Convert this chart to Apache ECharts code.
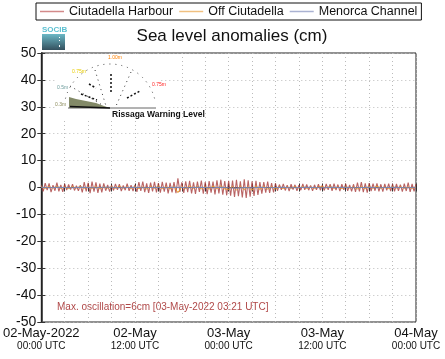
<!DOCTYPE html>
<html><head><meta charset="utf-8">
<script src="https://cdn.jsdelivr.net/npm/echarts@6/dist/echarts.min.js"></script>
<style>html,body{margin:0;padding:0;background:#fff}#c{width:445px;height:359px}</style>
</head><body><div id="c"></div>
<script>
// time axis: hours since 02-May-2022 00:00 UTC
const xTopLabels = ['02-May-2022','02-May','03-May','03-May','04-May'];
const xBottomLabels = ['00:00 UTC','12:00 UTC','00:00 UTC','12:00 UTC','00:00 UTC'];
const seriesNames = ['Ciutadella Harbour','Off Ciutadella','Menorca Channel'];
// Ciutadella Harbour, every 15 min (cm)
const harbourStepH = 0.25;
const harbour = [
 0.8,-1.4,1.6,-1.0,1.5,-1.7,0.9,-1.2,1.8,-1.4,1.0,-1.6,1.3,
 -1.0,1.1,-0.8,1.2,-1.1,0.7,-1.2,0.9,
 -1.8,2.0,-1.4,1.7,-2.1,2.2,-1.5,1.9,-2.0,1.4,-1.8,1.5,
 -1.2,1.0,-1.5,0.9,-1.1,1.3,-0.9,1.2,-1.3,0.8,-1.0,1.4,-1.2,0.9,-1.3,1.0,
 -1.6,2.0,-1.3,2.2,-1.7,1.5,-2.0,1.8,-1.4,2.1,-1.8,1.6,
 -1.9,2.1,-1.5,1.8,-2.2,1.7,-1.8,2.0,-2.1,3.4,-1.6,1.9,
 -2.0,2.3,-1.7,2.5,-2.2,1.9,-2.4,2.2,-1.6,2.6,-2.3,2.0,-2.5,2.4,-1.9,2.2,
 -2.6,2.7,-2.2,2.9,-2.7,2.4,-2.9,2.5,
 -3.0,2.6,-3.5,2.9,-3.2,2.3,-3.7,3.0,-3.9,2.7,-3.4,2.3,-3.1,2.5,-2.8,2.0,
 -2.3,2.0,-1.9,2.2,-2.0,1.6,-1.8,1.5,
 -1.2,1.1,-0.9,1.3,-1.1,0.9,-1.3,1.2,-0.8,1.0,-1.2,0.9,-1.0,1.3,-0.9,1.1,-1.0,0.8,-1.2,1.0,-0.9,1.2,-1.0,0.9,
 -1.1,1.3,-0.9,1.2,-1.2,1.4,-1.0,1.1,-1.3,1.2,-0.9,1.3,-1.2,1.0,-1.4,1.2,
 -1.6,1.8,-1.4,2.0,-1.7,1.5,-1.9,1.6,
 -1.3,1.4,-1.2,1.5,-1.4,1.2,-1.5,1.3,-1.1,1.4,-1.3,1.2,-1.4,1.3,-1.2,1.1,
 -1.5,1.4,-1.3,1.8,-1.6,1.3,-1.4,1.2
];
// Off Ciutadella, every 30 min (cm)
const offStepH = 0.5;
const offCiutadella = [
 0.2,-0.3,0.3,-0.2,0.4,-0.3,0.2,-0.4,0.3,-0.2,0.4,-0.3,0.2,-0.3,0.3,-0.4,0.2,-0.2,0.3,-0.3,0.4,-0.2,0.2,-0.3,
 0.3,-0.4,0.2,-0.5,0.4,-0.3,0.5,-0.4,0.3,-0.5,0.4,-1.9,0.3,-0.4,0.5,-0.3,0.4,-0.5,0.3,-0.6,0.5,-0.4,0.6,-0.5,
 -0.7,0.4,-0.9,0.5,-0.8,0.3,-1.0,0.6,-0.7,0.4,-0.6,0.3,-0.5,0.3,-0.4,0.2,-0.3,0.3,-0.2,0.3,-0.3,0.2,-0.3,0.2,
 0.3,-0.2,0.4,-0.3,0.2,-0.4,0.3,-0.2,0.2,-0.5,0.3,-0.4,0.4,-0.3,0.5,-0.3,0.2,-0.4,0.3,-0.2,0.3,-0.3,0.2,-0.3,0.2
];
// Menorca Channel, hourly (cm)
const menorcaStepH = 1;
const menorca = [
 0.1,-0.1,0.1,0.0,-0.1,0.1,0.0,-0.1,0.1,0.1,-0.1,0.0,0.1,-0.1,0.0,0.1,-0.1,0.1,0.0,-0.1,0.1,0.0,-0.1,0.1,
 -0.1,-0.2,0.0,-0.1,0.1,-0.1,0.0,0.1,-0.1,0.0,0.1,0.0,-0.1,0.1,0.0,0.1,-0.1,0.0,0.1,-0.1,0.0,0.1,0.0,-0.1,0.1
];
const maxOscText = 'Max. oscillation=6cm [03-May-2022 03:21 UTC]';

const toPairs = (arr, step) => arr.map((v, i) => [i * step, v]);
const F = 'Liberation Sans, Arial, sans-serif';
const chart = echarts.init(document.getElementById('c'), null, {renderer: 'canvas'});

const baseX = {
  type: 'value', min: 0, max: 48, interval: 3,
  axisLine: {show: true, lineStyle: {color: '#222', width: 1}},
  axisTick: {show: true, inside: true, length: 4, lineStyle: {color: '#333'}},
  splitLine: {show: false}
};
const baseY = {
  type: 'value', min: -50, max: 50, interval: 10,
  axisLine: {show: true, lineStyle: {color: '#222', width: 1}},
  axisTick: {show: true, inside: true, length: 4, lineStyle: {color: '#333'}},
  splitLine: {show: false}
};

chart.setOption({
  animation: false,
  backgroundColor: '#fff',
  textStyle: {fontFamily: F},
  title: {
    text: 'Sea level anomalies (cm)', left: 227, top: 23, textAlign: 'center',
    textStyle: {fontFamily: F, fontSize: 17, fontWeight: 'normal', color: '#111'}
  },
  legend: {
    left: 36, top: 3, padding: [2, 4, 2, 4], itemGap: 6,
    borderColor: '#111', borderWidth: 1,
    icon: 'rect', itemWidth: 24, itemHeight: 1.5,
    textStyle: {fontFamily: F, fontSize: 12.5, color: '#111'},
    data: [
      {name: seriesNames[0], itemStyle: {color: '#d38a8a'}},
      {name: seriesNames[1], itemStyle: {color: '#f0c080'}},
      {name: seriesNames[2], itemStyle: {color: '#aab2d2'}}
    ]
  },
  grid: {left: 39, right: 29, top: 53, bottom: 37, show: true, borderColor: '#222', borderWidth: 1},
  xAxis: [
    Object.assign({}, baseX, {
      position: 'bottom',
      splitLine: {show: true, lineStyle: {color: '#bbb', type: [1, 3], width: 1}},
      axisLabel: {
        show: true, margin: 5, showMinLabel: true, showMaxLabel: true,
        formatter: function (v) {
          if (v % 12 !== 0) return '';
          const k = v / 12;
          return '{a|' + xTopLabels[k] + '}\n{b|' + xBottomLabels[k] + '}';
        },
        rich: {
          a: {fontFamily: F, fontSize: 13, color: '#111', lineHeight: 13},
          b: {fontFamily: F, fontSize: 10, color: '#111', lineHeight: 12}
        }
      }
    }),
    Object.assign({}, baseX, {position: 'top', axisLabel: {show: false}})
  ],
  yAxis: [
    Object.assign({}, baseY, {
      position: 'left',
      axisLine: {show: true, lineStyle: {color: '#555', width: 2}},
      splitLine: {show: true, lineStyle: {color: '#bbb', type: [1, 3], width: 1}},
      axisLabel: {show: true, margin: 5, fontFamily: F, fontSize: 14, color: '#111'}
    }),
    Object.assign({}, baseY, {position: 'right', axisLabel: {show: false}})
  ],
  graphic: [
    // SOCIB logo
    {type: 'text', left: 42, top: 26, style: {text: 'SOCIB', fontFamily: F, fontSize: 8, fontWeight: 'bold', fill: '#5bbfd0'}},
    {type: 'rect', shape: {x: 42, y: 34, width: 23, height: 16},
     style: {fill: new echarts.graphic.LinearGradient(0, 0, 0, 1, [{offset: 0, color: '#6ab8c6'}, {offset: 1, color: '#34505e'}])}},
    {type: 'rect', shape: {x: 59, y: 37, width: 1, height: 1}, style: {fill: '#fff'}},
    {type: 'rect', shape: {x: 59, y: 40, width: 1, height: 1}, style: {fill: '#fff'}},
    {type: 'rect', shape: {x: 59, y: 45, width: 1, height: 2}, style: {fill: '#fff'}},
    // warning gauge image
    {type: 'rect', z: 10, shape: {x: 55, y: 55, width: 106, height: 66}, style: {fill: '#fff'}},
    {type: 'arc', z: 11, shape: {cx: 110, cy: 110, r: 46, startAngle: Math.PI + 0.25, endAngle: 2 * Math.PI - 0.25},
     style: {stroke: '#444', lineWidth: 1, lineDash: [1, 5], fill: null}},
    {type: 'polygon', z: 11, shape: {points: [[69, 97], [76, 99], [86, 101], [96, 103], [104, 106], [110, 108], [69, 108]]}, style: {fill: '#838a68'}},
    {type: 'line', z: 12, shape: {x1: 68, y1: 108, x2: 156, y2: 108}, style: {stroke: '#666', lineWidth: 1}},
    {type: 'line', z: 12, shape: {x1: 70, y1: 106.5, x2: 110, y2: 108}, style: {stroke: '#111', lineWidth: 1.5}},
    {type: 'line', z: 11, shape: {x1: 81, y1: 94, x2: 97, y2: 100}, style: {stroke: '#111', lineWidth: 1.5, lineDash: [2, 2]}},
    {type: 'line', z: 11, shape: {x1: 89, y1: 84, x2: 96, y2: 88}, style: {stroke: '#111', lineWidth: 1.5, lineDash: [2, 2]}},
    {type: 'line', z: 11, shape: {x1: 111, y1: 74, x2: 111, y2: 92}, style: {stroke: '#111', lineWidth: 1.5, lineDash: [2, 2]}},
    {type: 'line', z: 11, shape: {x1: 127, y1: 98, x2: 140, y2: 91}, style: {stroke: '#111', lineWidth: 1.5, lineDash: [2, 2]}},
    {type: 'line', z: 11, shape: {x1: 95, y1: 70, x2: 106, y2: 106}, style: {stroke: '#333', lineWidth: 1, lineDash: [1, 4]}},
    {type: 'line', z: 11, shape: {x1: 131, y1: 72, x2: 116, y2: 106}, style: {stroke: '#333', lineWidth: 1, lineDash: [1, 4]}},
    {type: 'line', z: 11, shape: {x1: 70, y1: 86, x2: 104, y2: 106}, style: {stroke: '#333', lineWidth: 1, lineDash: [1, 4]}},
    {type: 'text', z: 12, left: 108, top: 55, style: {text: '1.00m', fontFamily: F, fontSize: 5, fill: '#ff8000'}},
    {type: 'text', z: 12, left: 72, top: 69, style: {text: '0.75m', fontFamily: F, fontSize: 5, fill: '#e8cc00'}},
    {type: 'text', z: 12, left: 152, top: 82, style: {text: '0.75m', fontFamily: F, fontSize: 5, fill: '#ff2020'}},
    {type: 'text', z: 12, left: 57, top: 85, style: {text: '0.5m', fontFamily: F, fontSize: 5, fill: '#6a9a9a'}},
    {type: 'text', z: 12, left: 55, top: 102, style: {text: '0.3m', fontFamily: F, fontSize: 5, fill: '#8a8a5a'}},
    {type: 'text', z: 12, left: 112, top: 110, style: {text: 'Rissaga Warning Level', fontFamily: F, fontSize: 8.5, fontWeight: 'bold', fill: '#111', textAlign: 'center'}},
    // max oscillation note
    {type: 'text', left: 57, top: 302, style: {text: maxOscText, fontFamily: F, fontSize: 10, fill: '#b04848'}}
  ],
  series: [
    {name: seriesNames[0], type: 'line', data: toPairs(harbour, harbourStepH), showSymbol: false, symbol: 'none',
     lineStyle: {color: '#a83c3c', width: 1.1, opacity: 0.8}, itemStyle: {color: '#d38a8a'}},
    {name: seriesNames[1], type: 'line', data: toPairs(offCiutadella, offStepH), showSymbol: false, symbol: 'none',
     lineStyle: {color: '#e8962a', width: 1}, itemStyle: {color: '#f0c080'}},
    {name: seriesNames[2], type: 'line', data: toPairs(menorca, menorcaStepH), showSymbol: false, symbol: 'none',
     lineStyle: {color: '#7a86b0', width: 1.2}, itemStyle: {color: '#aab2d2'}}
  ]
});
</script></body></html>
